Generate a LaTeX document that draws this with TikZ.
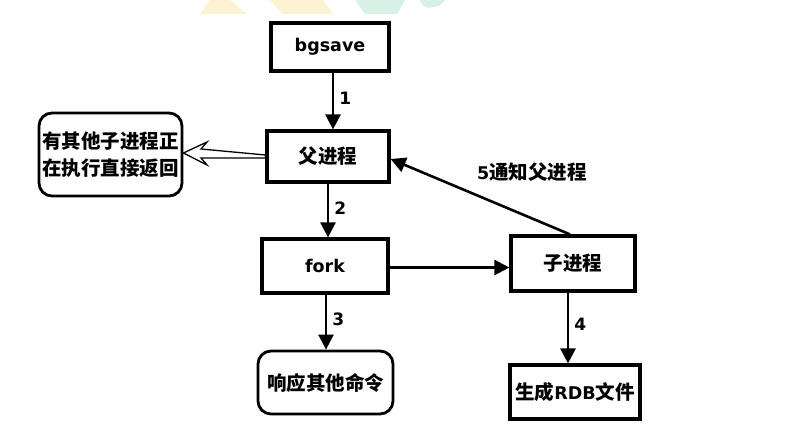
\documentclass[tikz,border=0pt]{standalone}
\usepackage{fontspec}
\setmainfont{DejaVu Sans}
\newfontfamily\cjk{Noto Sans CJK SC}
\usetikzlibrary{arrows.meta}
\definecolor{wmyellow}{HTML}{FDF2D2}
\definecolor{wmteal}{HTML}{D8F1E7}
\newcommand{\lat}[1]{{\fontspec{DejaVu Sans}\bfseries\fontsize{17.5}{21}\selectfont #1}}
\tikzset{
  box/.style={draw=black, line width=3.2pt, fill=white, inner sep=0pt, font=\cjk\bfseries\fontsize{19.5}{24}\selectfont},
  rbox/.style={box, rounded corners=13pt, line width=2.8pt},
  arr/.style={line width=2.6pt, -{Triangle[length=15pt, width=15pt]}},
  lab/.style={font=\bfseries\fontsize{17}{20}\selectfont, inner sep=1pt},
  cjklab/.style={font=\cjk\bfseries\fontsize{19.5}{24}\selectfont, inner sep=1pt}
}
\begin{document}
\begin{tikzpicture}[x=1pt,y=-1pt]
\useasboundingbox (0,0) rectangle (792,441);
\fill[white] (0,0) rectangle (792,441);
% faint watermark at top
\fill[wmyellow] (200,14) -- (247,14) -- (230,0) -- (210,0) -- cycle;
\fill[wmyellow] (270,0) -- (323,0) -- (333,14) -- (282,14) -- cycle;
\fill[wmteal] (355,0) -- (405,0) -- (397,14) -- (365,14) -- cycle;
\fill[wmteal] (420,0) -- (445,0) .. controls (440,6) .. (428,8) .. controls (422,5) .. (420,0) -- cycle;

% nodes
\node[box, minimum width=118pt, minimum height=48pt] (bg) at (330,47) {\lat{bgsave}};
\node[box, minimum width=122pt, minimum height=51pt] (parent) at (328,156.5) {父进程};
\node[box, minimum width=126pt, minimum height=54pt] (fork) at (325,266) {\lat{fork}};
\node[box, minimum width=124pt, minimum height=55pt] (child) at (573,263.5) {子进程};
\node[box, minimum width=130pt, minimum height=54pt] (rdb) at (575,392) {生成\lat{RDB}文件};
\node[rbox, minimum width=135pt, minimum height=63pt] (resp) at (325.5,382.5) {响应其他命令};
\node[rbox, minimum width=143pt, minimum height=83pt, align=center,
      font=\cjk\bfseries\fontsize{19.5}{27}\selectfont] (left) at (110.5,154.5)
  {有其他子进程正\\在执行直接返回};

% connectors
\draw[arr] ([xshift=3pt]bg.south) -- node[lab, right=4pt, pos=0.45] (l1) {1} ([xshift=5pt]parent.north);
\draw[arr] (parent.south) -- node[lab, right=4pt, pos=0.45] (l2) {2} ([xshift=3pt]fork.north);
\draw[arr] ([xshift=1pt]fork.south) -- node[lab, right=4pt, pos=0.45] (l3) {3} ([xshift=0.5pt]resp.north);
\draw[arr] ([xshift=-5pt]child.south) -- node[lab, right=4pt, pos=0.45] (l4) {4} ([xshift=-7pt]rdb.north);
\draw[arr] ([yshift=-1.5pt]fork.east) -- ([yshift=-1.5pt]fork.east -| child.west);
\draw[arr] ([xshift=-3pt]child.north) -- ([yshift=-2.5pt]parent.east);
\node[cjklab, anchor=center] (l5) at (532,172) {\lat{5}通知父进程};

% hollow arrow from parent to left box
\coordinate (ht) at ([yshift=1.5pt]left.east);
\coordinate (hs) at (parent.west);
\draw[line width=1.3pt, fill=white, line join=miter]
  (ht) -- (207,142) -- (201,149) -- ([yshift=1.5pt]hs) -- ([yshift=-1.5pt]hs)
  -- (201,158) -- (207,165) -- cycle;
\end{tikzpicture}
\end{document}
